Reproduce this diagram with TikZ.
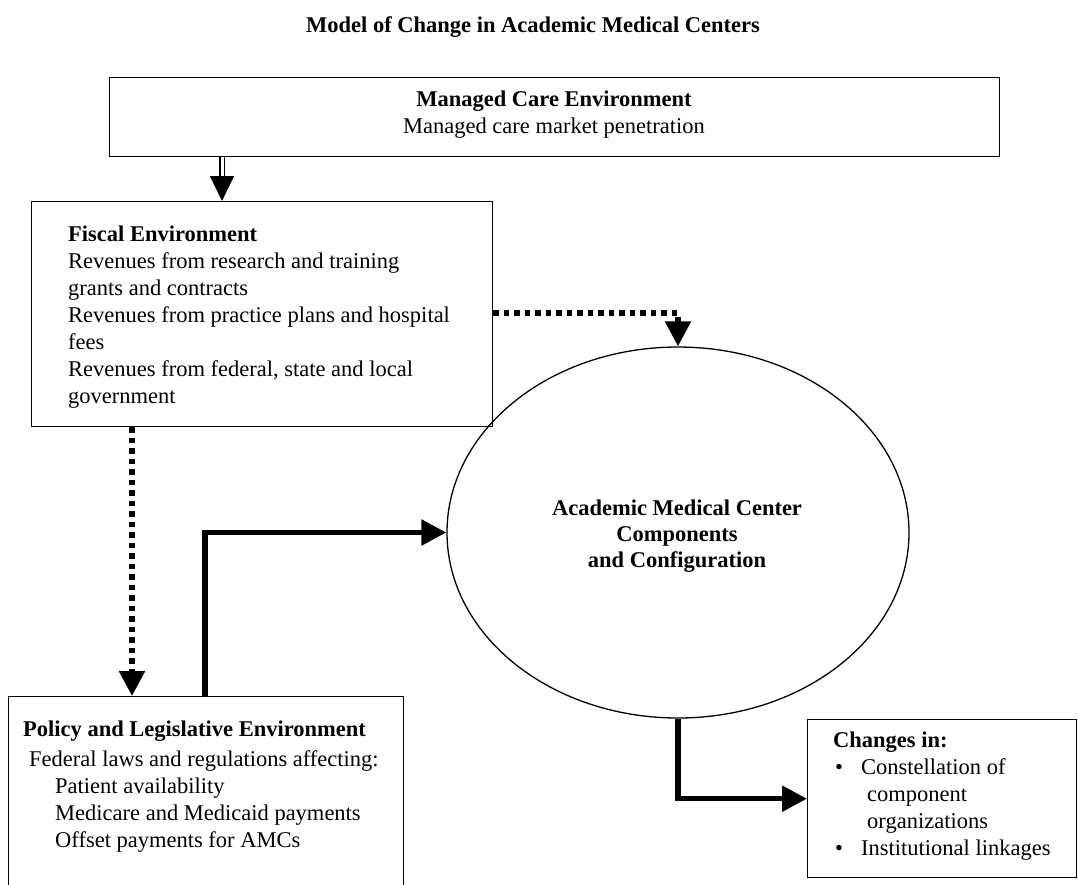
\documentclass[tikz,border=0pt]{standalone}
\usepackage{fontspec}
\setmainfont{Liberation Serif}
\usetikzlibrary{arrows.meta,shapes.geometric}
\begin{document}
\begin{tikzpicture}[x=1pt,y=-1pt,
  box/.style={draw, line width=1.4pt, inner sep=0pt, anchor=north west},
  txt/.style={anchor=base west, inner sep=0pt, font=\fontsize{22.5}{27}\selectfont},
  ctxt/.style={anchor=base, inner sep=0pt, font=\fontsize{22.5}{27}\selectfont},
  thickarrow/.style={line width=5.5pt, -{Triangle[width=25pt,length=25pt]}},
  dotarrow/.style={line width=5.5pt, dash pattern=on 5.5pt off 5pt, -{Triangle[width=25pt,length=25pt]}},
  dblshaft/.style={double, double distance=3pt, line width=1.2pt},
  headonly/.style={line width=1.2pt, -{Triangle[width=24pt,length=25pt]}}]
\useasboundingbox[fill=white] (0,0) rectangle (1078,884);

% title
\node[txt, font=\fontsize{22.5}{27}\selectfont\bfseries] (title) at (306,32) {Model of Change in Academic Medical Centers};

% boxes
\node[box, minimum width=890pt, minimum height=79pt] (mc) at (109,77) {};
\node[box, minimum width=461pt, minimum height=225pt] (fe) at (31,201) {};
\node[box, minimum width=395pt, minimum height=200pt] (pol) at (8,696) {};
\node[box, minimum width=269pt, minimum height=158pt] (ch) at (807,719) {};
\node[draw, ellipse, line width=1.3pt, minimum width=462pt, minimum height=371pt, inner sep=0pt] (amc) at (678,532.5) {};

% managed care text
\node[ctxt, font=\fontsize{22.5}{27}\selectfont\bfseries] (mc1) at (554,106) {Managed Care Environment};
\node[ctxt] (mc2) at (554,133) {Managed care market penetration};

% fiscal text
\node[txt, font=\fontsize{22.5}{27}\selectfont\bfseries] (fe1) at (68,241) {Fiscal Environment};
\node[txt] (fe2) at (68,268) {Revenues from research and training};
\node[txt] (fe3) at (68,295) {grants and contracts};
\node[txt] (fe4) at (68,322) {Revenues from practice plans and hospital};
\node[txt] (fe5) at (68,349) {fees};
\node[txt] (fe6) at (68,376) {Revenues from federal, state and local};
\node[txt] (fe7) at (68,403) {government};

% AMC text
\node[ctxt, font=\fontsize{22.5}{27}\selectfont\bfseries] (amc1) at (677,515) {Academic Medical Center};
\node[ctxt, font=\fontsize{22.5}{27}\selectfont\bfseries] (amc2) at (677,541) {Components};
\node[ctxt, font=\fontsize{22.5}{27}\selectfont\bfseries] (amc3) at (677,567) {and Configuration};

% policy text
\node[txt, font=\fontsize{22.5}{27}\selectfont\bfseries] (po1) at (23,736) {Policy and Legislative Environment};
\node[txt] (po2) at (29,766) {Federal laws and regulations affecting:};
\node[txt] (po3) at (55,793) {Patient availability};
\node[txt] (po4) at (55,820) {Medicare and Medicaid payments};
\node[txt] (po5) at (55,847) {Offset payments for AMCs};

% changes text
\node[txt, font=\fontsize{22.5}{27}\selectfont\bfseries] (ch1) at (833,747) {Changes in:};
\node[txt] (chb1) at (835,774) {•};
\node[txt] (ch2) at (861,774) {Constellation of};
\node[txt] (ch3) at (867,801) {component};
\node[txt] (ch4) at (867,828) {organizations};
\node[txt] (chb2) at (835,855) {•};
\node[txt] (ch5) at (861,855) {Institutional linkages};

% connectors
\coordinate (dx) at (222,0);
\coordinate (dh) at (222,176);
\draw[dblshaft] (mc.south -| dx) -- (dh);
\draw[headonly] (dh) -- (fe.north -| dh);

\coordinate (px) at (132,0);
\draw[dotarrow] (fe.south -| px) -- (pol.north -| px);

\coordinate (py) at (0,313);
\draw[dotarrow] (fe.east |- py) -- (amc.north |- py) -- (amc.north);

\coordinate (sx) at (205,0);
\draw[thickarrow] (pol.north -| sx) |- (amc.west);

\draw[thickarrow] (amc.south) |- (ch.west);
\end{tikzpicture}
\end{document}
